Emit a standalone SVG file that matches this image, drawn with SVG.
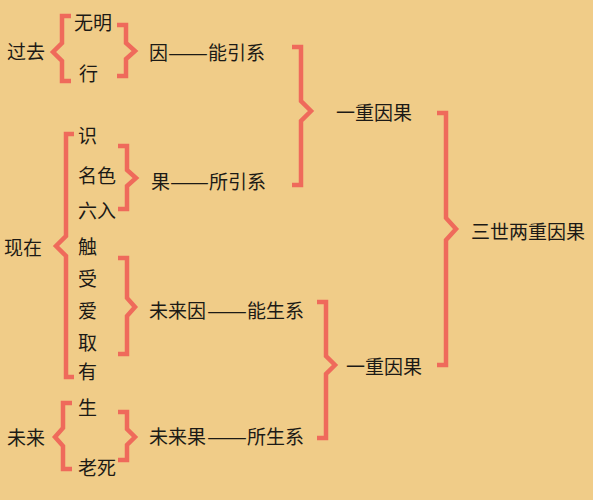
<svg xmlns="http://www.w3.org/2000/svg" width="593" height="500" viewBox="0 0 593 500">
<style>
.t{font-family:"Noto Sans CJK SC","Noto Sans",sans-serif;font-size:19px;fill:#1c1a16}
.b{fill:none;stroke:#EF6A5B;stroke-width:4.5;stroke-linejoin:miter;stroke-linecap:butt}
</style>
<rect width="593" height="500" fill="#F0CC88"/>
<g id="connectors">
<path class="b" d="M71,16 H62 V43 L53,52 L62,61 V81 H71"/>
<path class="b" d="M117,25 H126 V43 L135,51 L126,59 V76 H117"/>
<path class="b" d="M292,47 H301 V101 L311,111 L301,121 V185 H292"/>
<path class="b" d="M74,134 H66 V236 L56,246 L66,256 V377 H74"/>
<path class="b" d="M118,146 H127 V170 L136,178 L127,186 V209 H118"/>
<path class="b" d="M118,258 H127 V298 L135,307 L127,316 V354 H118"/>
<path class="b" d="M317,302 H326 V356 L335,365 L326,374 V438 H317"/>
<path class="b" d="M72,403 H63 V428 L55,437 L63,446 V469 H72"/>
<path class="b" d="M118,412 H127 V429 L135,437 L127,445 V460 H118"/>
<path class="b" d="M437,113 H446 V218 L456,229 L446,240 V365 H437"/>
</g>
<g id="n-guoqu"><text class="t" x="7" y="59">过去</text></g>
<g id="n-wuming"><text class="t" x="74" y="30">无明</text></g>
<g id="n-xing"><text class="t" x="79" y="81">行</text></g>
<g id="n-yin"><text class="t" x="149" y="60">因</text><text class="t" x="168" y="60" textLength="40" lengthAdjust="spacingAndGlyphs">——</text><text class="t" x="208" y="60">能引系</text></g>
<g id="n-shi"><text class="t" x="78" y="143">识</text></g>
<g id="n-mingse"><text class="t" x="78" y="183">名色</text></g>
<g id="n-liuru"><text class="t" x="78" y="218">六入</text></g>
<g id="n-guo"><text class="t" x="151" y="189">果</text><text class="t" x="170" y="189" textLength="39" lengthAdjust="spacingAndGlyphs">——</text><text class="t" x="209" y="189">所引系</text></g>
<g id="n-xianzai"><text class="t" x="4" y="255">现在</text></g>
<g id="n-chu"><text class="t" x="78" y="254">触</text></g>
<g id="n-shou"><text class="t" x="78" y="286">受</text></g>
<g id="n-ai"><text class="t" x="78" y="318">爱</text></g>
<g id="n-qu"><text class="t" x="78" y="350">取</text></g>
<g id="n-you"><text class="t" x="78" y="379">有</text></g>
<g id="n-weilaiyin"><text class="t" x="149" y="318">未来因</text><text class="t" x="207" y="318" textLength="40" lengthAdjust="spacingAndGlyphs">——</text><text class="t" x="247" y="318">能生系</text></g>
<g id="n-weilai"><text class="t" x="7" y="445">未来</text></g>
<g id="n-sheng"><text class="t" x="78" y="415">生</text></g>
<g id="n-laosi"><text class="t" x="78" y="475">老死</text></g>
<g id="n-weilaiguo"><text class="t" x="149" y="444">未来果</text><text class="t" x="207" y="444" textLength="40" lengthAdjust="spacingAndGlyphs">——</text><text class="t" x="247" y="444">所生系</text></g>
<g id="n-yichong1"><text class="t" x="336" y="120">一重因果</text></g>
<g id="n-sanshi"><text class="t" x="471" y="239">三世两重因果</text></g>
<g id="n-yichong2"><text class="t" x="346" y="374">一重因果</text></g>
</svg>
